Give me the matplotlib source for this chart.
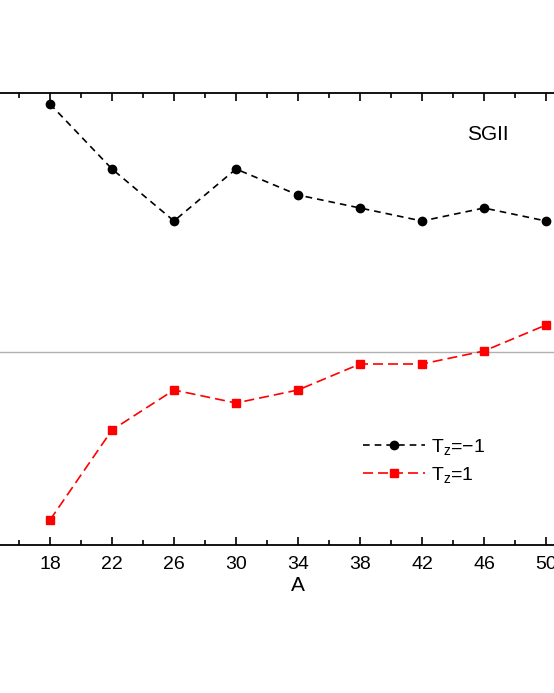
import matplotlib
matplotlib.use("Agg")
import matplotlib.pyplot as plt
from matplotlib.ticker import MultipleLocator

plt.rcParams['font.family'] = ['Liberation Sans', 'DejaVu Sans']
plt.rcParams['mathtext.default'] = 'regular'

A = [18, 22, 26, 30, 34, 38, 42, 46, 50]
tz_m1 = [2.48, 1.83, 1.31, 1.83, 1.57, 1.44, 1.31, 1.44, 1.31]
tz_p1 = [-1.68, -0.78, -0.38, -0.51, -0.38, -0.12, -0.12, 0.01, 0.27]

W, H = 554, 693
fig = plt.figure(figsize=(W/100, H/100), dpi=100)
ax = fig.add_axes([-12/W, 1-545/H, 620/W, (545-93)/H])
ax.set_xlim(14, 54)
ax.set_ylim(-1.93, 2.59)
ax.axhline(0, color='#b0b0b0', lw=1)
ax.plot(A, tz_m1, 'k--o', ms=6, lw=1.2, dashes=(4, 3), label='T$_z$=\u22121')
ax.plot(A, tz_p1, '--s', color='#ff0000', ms=6, lw=1.2, dashes=(6, 3), label='T$_z$=1')
ax.xaxis.set_minor_locator(MultipleLocator(2))
ax.set_xticks(A)
ax.set_yticks([])
ax.tick_params(axis='x', which='both', direction='in', top=True, labelsize=14, pad=8)
ax.tick_params(axis='x', which='major', length=6, width=1.2)
ax.tick_params(axis='x', which='minor', length=3.5, width=1.2)
for s in ax.spines.values():
    s.set_linewidth(1.3)
ax.set_xlabel('A', fontsize=15, labelpad=2)
fig.text(488/W, 1-135/H, 'SGII', fontsize=15, ha='center', va='center')
ax.legend(loc='center left', bbox_to_anchor=(345/W, 1-461/H), bbox_transform=fig.transFigure,
          frameon=False, fontsize=14, handlelength=3.2, labelspacing=0.4, handletextpad=0.3)
fig.savefig('out.png', dpi=100)
